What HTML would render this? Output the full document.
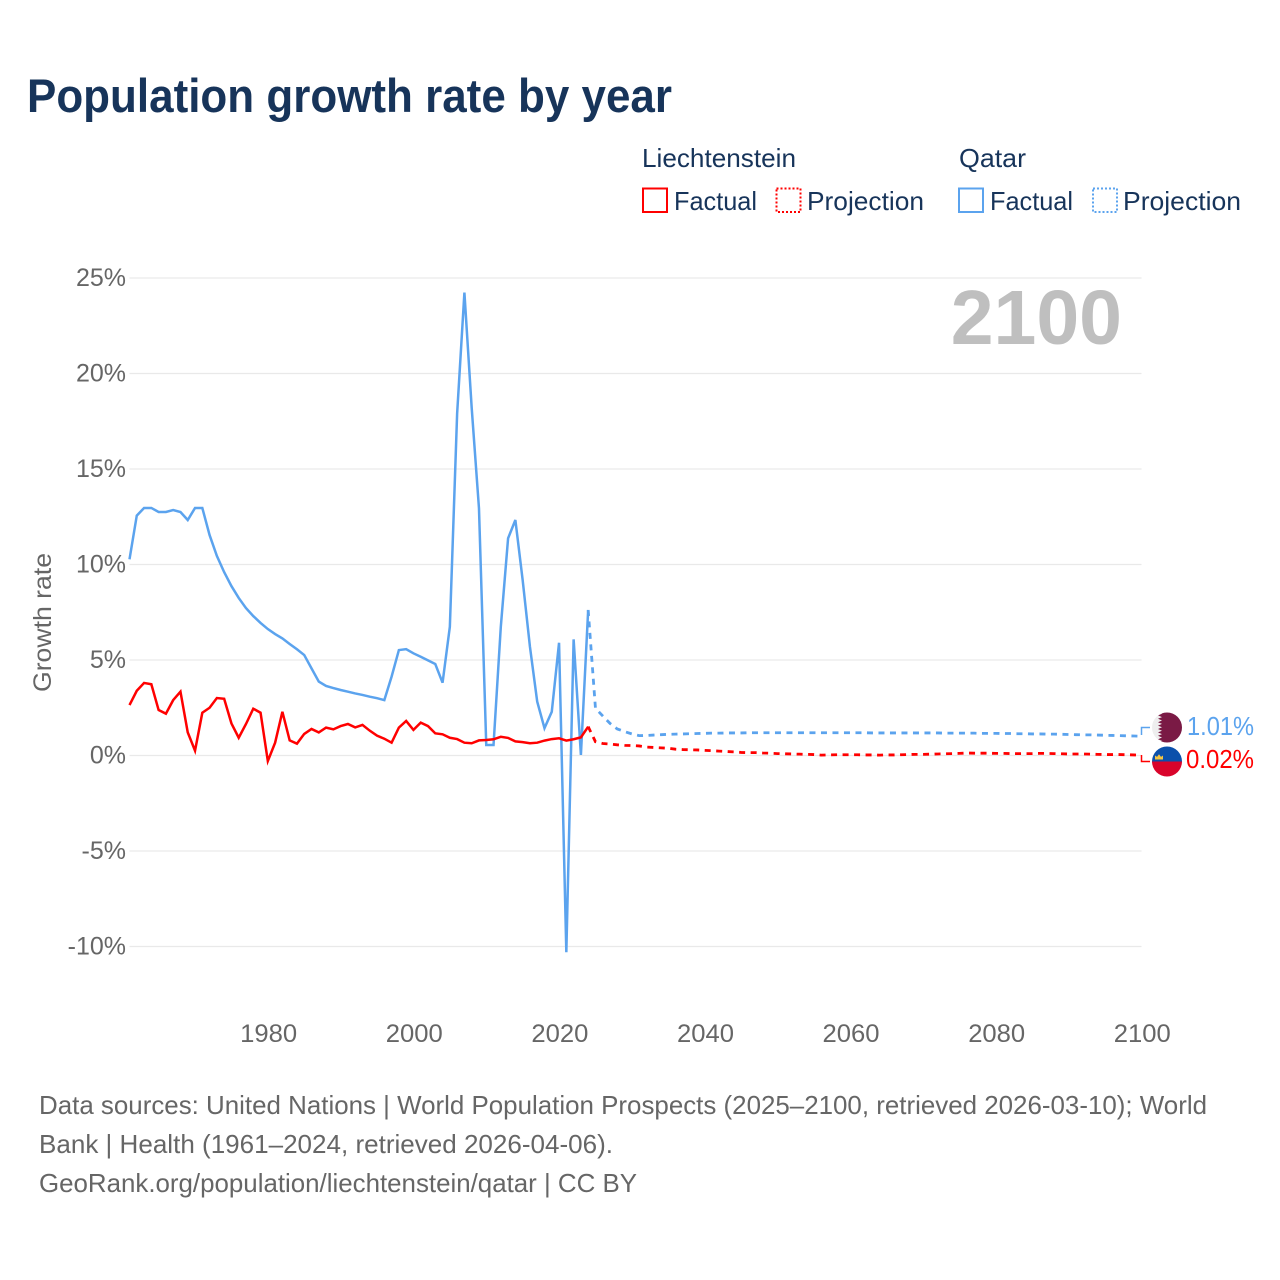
<!DOCTYPE html>
<html lang="en">
<head>
<meta charset="utf-8">
<title>Population growth rate by year</title>
<style>
html,body{margin:0;padding:0;background:#fff;width:1280px;height:1280px;overflow:hidden}
svg{display:block;font-family:"Liberation Sans",sans-serif}
</style>
</head>
<body>
<svg id="chart" xmlns="http://www.w3.org/2000/svg" width="1280" height="1280" viewBox="0 0 1280 1280">
  <defs>
    <clipPath id="flag-clip-qa"><circle cx="1167" cy="727.5" r="15"/></clipPath>
    <clipPath id="flag-clip-li"><circle cx="1167" cy="761.5" r="15"/></clipPath>
  </defs>
  <text x="27" y="112.2" font-size="47" font-weight="700" fill="#17345a" textLength="645" lengthAdjust="spacingAndGlyphs">Population growth rate by year</text>

  <g fill="#17345a" font-size="26">
    <text x="642" y="167" textLength="154" lengthAdjust="spacingAndGlyphs">Liechtenstein</text>
    <text x="959" y="167" textLength="67" lengthAdjust="spacingAndGlyphs">Qatar</text>
    <rect x="643" y="188.5" width="24" height="23.5" fill="none" stroke="#ff0000" stroke-width="2"/>
    <text x="674" y="210" textLength="83" lengthAdjust="spacingAndGlyphs">Factual</text>
    <rect x="776.5" y="188.5" width="24" height="23.5" fill="none" stroke="#ff0000" stroke-width="2" stroke-dasharray="2 2"/>
    <text x="807" y="210" textLength="117" lengthAdjust="spacingAndGlyphs">Projection</text>
    <rect x="959" y="188.5" width="24" height="23.5" fill="none" stroke="#5ba3ee" stroke-width="2"/>
    <text x="990" y="210" textLength="83" lengthAdjust="spacingAndGlyphs">Factual</text>
    <rect x="1093" y="188.5" width="24" height="23.5" fill="none" stroke="#5ba3ee" stroke-width="2" stroke-dasharray="2 2"/>
    <text x="1123" y="210" textLength="118" lengthAdjust="spacingAndGlyphs">Projection</text>
  </g>

  <g id="grid"></g>
  <g id="ylabels"></g>
  <g id="xlabels"></g>

  <text transform="translate(51,692) rotate(-90)" font-size="25" fill="#666666" textLength="139" lengthAdjust="spacingAndGlyphs">Growth rate</text>
  <text x="1122" y="344" text-anchor="end" font-size="77" font-weight="700" fill="#bfbfbf">2100</text>

  <g id="series"></g>

  <path d="M1141.5 735V727.5H1150" fill="none" stroke="#5ba3ee" stroke-width="1.5"/>
  <path d="M1141.5 755V761.5H1150" fill="none" stroke="#ff0000" stroke-width="1.5"/>

  <g clip-path="url(#flag-clip-qa)">
    <rect x="1152" y="712" width="30" height="31" fill="#eeeeee"/>
    <polygon points="1182,712 1158,712 1162,713.7 1158,715.4 1162,717.1 1158,718.8 1162,720.5 1158,722.2 1162,723.9 1158,725.6 1162,727.3 1158,729 1162,730.7 1158,732.4 1162,734.1 1158,735.8 1162,737.5 1158,739.2 1162,740.9 1158,743 1182,743" fill="#7a1a45"/>
  </g>
  <g clip-path="url(#flag-clip-li)">
    <rect x="1152" y="746" width="30" height="15.5" fill="#0b50ab"/>
    <rect x="1152" y="761.5" width="30" height="15.5" fill="#d9042b"/>
    <path d="M1155 759.5v-4l2 1.4 2-2.6 2 2.6 2-1.4v4z" fill="#f5c542"/>
  </g>

  <text x="1187" y="735" font-size="25.5" fill="#5ba3ee" textLength="67" lengthAdjust="spacingAndGlyphs">1.01%</text>
  <text x="1186" y="768" font-size="25.5" fill="#ff0000" textLength="68" lengthAdjust="spacingAndGlyphs">0.02%</text>

  <g font-size="26" fill="#666666">
    <text x="39" y="1114" textLength="1168" lengthAdjust="spacingAndGlyphs">Data sources: United Nations | World Population Prospects (2025–2100, retrieved 2026-03-10); World</text>
    <text x="39" y="1153" textLength="574" lengthAdjust="spacingAndGlyphs">Bank | Health (1961–2024, retrieved 2026-04-06).</text>
    <text x="39" y="1192" textLength="598" lengthAdjust="spacingAndGlyphs">GeoRank.org/population/liechtenstein/qatar | CC BY</text>
  </g>
</svg>
<script>
const factualStartYear = 1961;
const projectionStartYear = 2024;
const yTicks = [25, 20, 15, 10, 5, 0, -5, -10];
const yTickLabels = ['25%', '20%', '15%', '10%', '5%', '0%', '-5%', '-10%'];
const xTicks = [1980, 2000, 2020, 2040, 2060, 2080, 2100];
const qatarFactual = [10.27,12.56,12.96,12.96,12.75,12.75,12.85,12.75,12.33,12.96,12.96,11.54,10.45,9.6,8.87,8.25,7.72,7.3,6.94,6.62,6.36,6.13,5.84,5.56,5.26,4.56,3.87,3.64,3.53,3.43,3.34,3.25,3.17,3.08,3.0,2.9,4.13,5.52,5.57,5.35,5.17,4.98,4.79,3.81,6.74,17.9,24.24,18.2,12.95,0.55,0.55,6.74,11.37,12.33,9.19,5.7,2.82,1.43,2.29,5.9,-10.3,6.08,0.03,7.62];
const liechtensteinFactual = [2.64,3.39,3.8,3.73,2.38,2.19,2.9,3.34,1.21,0.25,2.24,2.5,3.01,2.97,1.68,0.93,1.65,2.45,2.24,-0.29,0.67,2.29,0.79,0.62,1.13,1.39,1.21,1.46,1.37,1.54,1.65,1.47,1.6,1.3,1.04,0.88,0.67,1.46,1.81,1.34,1.72,1.54,1.16,1.11,0.93,0.86,0.67,0.64,0.79,0.81,0.85,0.98,0.92,0.74,0.7,0.64,0.67,0.78,0.86,0.9,0.78,0.85,0.95,1.51];
const qatarProjection = [7.62,2.47,2.07,1.68,1.39,1.25,1.13,1.04,1.05,1.07,1.09,1.11,1.12,1.13,1.14,1.15,1.16,1.17,1.17,1.18,1.18,1.18,1.19,1.19,1.19,1.19,1.19,1.19,1.19,1.19,1.19,1.19,1.19,1.19,1.19,1.19,1.19,1.19,1.19,1.18,1.18,1.18,1.18,1.18,1.18,1.18,1.18,1.18,1.18,1.17,1.17,1.17,1.17,1.17,1.16,1.16,1.16,1.15,1.15,1.14,1.14,1.13,1.13,1.12,1.12,1.11,1.1,1.09,1.08,1.08,1.07,1.06,1.05,1.04,1.03,1.02,1.01];
const liechtensteinProjection = [1.51,0.72,0.63,0.6,0.56,0.53,0.52,0.5,0.44,0.42,0.4,0.38,0.33,0.31,0.3,0.29,0.27,0.25,0.23,0.21,0.19,0.16,0.15,0.15,0.13,0.12,0.1,0.09,0.08,0.07,0.06,0.05,0.02,0.03,0.04,0.04,0.04,0.04,0.03,0.03,0.02,0.03,0.03,0.04,0.05,0.06,0.06,0.07,0.08,0.09,0.1,0.11,0.13,0.12,0.12,0.12,0.11,0.11,0.1,0.1,0.1,0.1,0.11,0.11,0.1,0.09,0.08,0.08,0.08,0.07,0.06,0.05,0.05,0.05,0.04,0.03,0.02];

const NS = 'http://www.w3.org/2000/svg';
const xMin = 1961, xMax = 2100, xLeft = 129.5, xRight = 1141.5;
const zeroY = 755.5, pxPerPercent = 19.1;
function xScale(year) { return xLeft + (year - xMin) * (xRight - xLeft) / (xMax - xMin); }
function yScale(v) { return zeroY - v * pxPerPercent; }

const grid = document.getElementById('grid');
const ylabels = document.getElementById('ylabels');
const xlabels = document.getElementById('xlabels');
const series = document.getElementById('series');

yTicks.forEach(function (t, i) {
  const line = document.createElementNS(NS, 'line');
  
  
  line.setAttribute('x1', xLeft);
  line.setAttribute('x2', xRight);
  line.setAttribute('y1', yScale(t));
  line.setAttribute('y2', yScale(t));
  line.setAttribute('stroke', '#e9e9e9');
  line.setAttribute('stroke-width', '1.3');
  grid.appendChild(line);

  const label = document.createElementNS(NS, 'text');
  
  
  label.setAttribute('x', 126);
  label.setAttribute('y', yScale(t) + 8);
  label.setAttribute('text-anchor', 'end');
  label.setAttribute('font-size', '25');
  label.setAttribute('fill', '#666666');
  label.textContent = yTickLabels[i];
  ylabels.appendChild(label);
});

xTicks.forEach(function (t) {
  const label = document.createElementNS(NS, 'text');
  
  
  label.setAttribute('x', xScale(t) + 0.8);
  label.setAttribute('y', 1042);
  label.setAttribute('text-anchor', 'middle');
  label.setAttribute('font-size', '25');
  label.setAttribute('fill', '#666666');
  label.setAttribute('textLength', '57');
  label.setAttribute('lengthAdjust', 'spacingAndGlyphs');
  label.textContent = String(t);
  xlabels.appendChild(label);
});

function buildPath(values, startYear) {
  return values.map(function (v, i) {
    return (i ? 'L' : 'M') + xScale(startYear + i).toFixed(2) + ' ' + yScale(v).toFixed(2);
  }).join('');
}

function drawLine(name, values, startYear, color, dashed) {
  const p = document.createElementNS(NS, 'path');
  
  
  p.setAttribute('d', buildPath(values, startYear));
  p.setAttribute('fill', 'none');
  p.setAttribute('stroke', color);
  p.setAttribute('stroke-width', dashed ? '2.8' : '2.5');
  p.setAttribute('stroke-linejoin', 'miter');
  if (dashed) p.setAttribute('stroke-dasharray', '6 5.5');
  series.appendChild(p);
}

drawLine('qatar-factual-line', qatarFactual, factualStartYear, '#5ba3ee', false);
drawLine('qatar-projection-line', qatarProjection, projectionStartYear, '#5ba3ee', true);
drawLine('liechtenstein-factual-line', liechtensteinFactual, factualStartYear, '#ff0000', false);
drawLine('liechtenstein-projection-line', liechtensteinProjection, projectionStartYear, '#ff0000', true);
</script>
</body>
</html>
